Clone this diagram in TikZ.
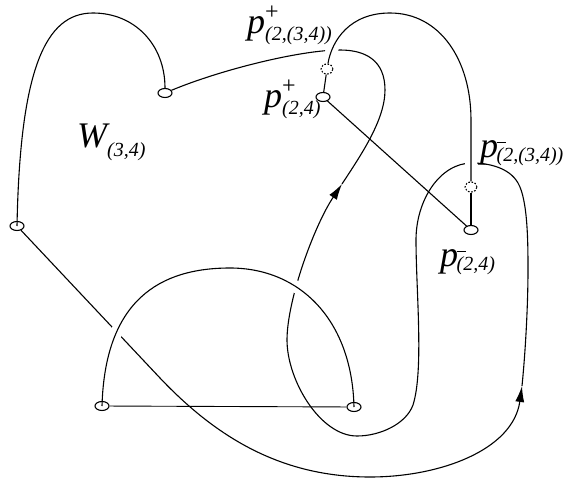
\documentclass[tikz,border=0pt]{standalone}
\usepackage{fontspec}
\setmainfont{Liberation Serif}
\usetikzlibrary{arrows.meta,shapes.geometric}

\pgfdeclarelayer{front}
\pgfsetlayers{main,front}

\newcommand{\subtxt}[1]{{\fontsize{20}{20}\selectfont #1}}
\newcommand{\pplus}[1]{p\rlap{\raisebox{14pt}{\fontsize{24}{24}\selectfont\upshape +}}\raisebox{-7pt}{\subtxt{#1}}}
\newcommand{\pminus}[1]{p\kern-1.5pt\rlap{\raisebox{14pt}{\rule{9pt}{1.4pt}}}\raisebox{-4pt}{\subtxt{#1}}}

\begin{document}
\begin{tikzpicture}[x=1pt,y=-1pt,
  hole/.style={draw, ellipse, line width=1.1pt, minimum width=14pt, minimum height=9pt, inner sep=0pt},
  hidden/.style={hole, dash pattern=on 1.6pt off 1.6pt, minimum width=12pt, minimum height=10pt},
  strand/.style={line width=1.1pt},
  over/.style={strand, preaction={draw, white, line width=12pt}},
  arrowed/.style={-{Latex[length=16pt,width=9pt]}},
  lab/.style={inner sep=0pt, font=\fontsize{36}{36}\selectfont\itshape},
]
\useasboundingbox (0,0) rectangle (566,485);

% punctures
\begin{pgfonlayer}{front}
  \node[hole] (A) at (165,93) {};
  \node[hole] (B) at (17,226) {};
  \node[hole] (C) at (102,406) {};
  \node[hole] (D) at (354,407) {};
  \node[hole] (E) at (323,97) {};
  \node[hole] (G) at (471,230) {};
  \node[hidden] (F) at (327,69) {};
  \node[hidden] (H) at (471,187) {};
\end{pgfonlayer}
\coordinate (up1) at (522,386);
\coordinate (up2) at (342,184);

% the long curve from B to A
\draw[strand, arrowed] (B) -- (160,378) .. controls (215,436) and (280,477) .. (370,477)
  .. controls (440,477) and (513,450) .. (up1);
\draw[strand, arrowed] (up1) .. controls (526,346) and (528,300) .. (528,270)
  .. controls (528,245) and (528,200) .. (518,183)
  .. controls (509,167) and (487,163) .. (472,163)
  .. controls (440,163) and (416,200) .. (416,240)
  .. controls (416,290) and (424,370) .. (413,405)
  .. controls (406,424) and (380,436) .. (357,436)
  .. controls (320,436) and (287,380) .. (287,340)
  .. controls (287,300) and (314,226) .. (up2);
\draw[strand] (up2) .. controls (361,155) and (385,120) .. (385,90)
  .. controls (385,60) and (365,50) .. (340,50)
  .. controls (300,50) and (220,70) .. (A);

% arcs passing over
\draw[over] (C.center) .. controls (105,300) and (160,268) .. (230,268)
  .. controls (300,268) and (352,320) .. (D.center);
\draw[over] (F) .. controls (332,40) and (350,13) .. (390,13)
  .. controls (440,13) and (471,60) .. (471,120) -- (H);

% the rest
\draw[strand] (B.center) .. controls (20,70) and (45,13) .. (93,13)
  .. controls (135,13) and (165,45) .. (A.north);
\draw[line width=0.9pt] (C) -- (D);
\draw[strand] (E) -- (F);
\draw[strand] (H) -- (G);
\draw[strand] (E) -- (G);

% labels
\node[lab, anchor=base west] (wlab) at (77,147) {W\raisebox{-9pt}{\subtxt{(3,4)}}};
\node[lab, anchor=base west] (pp1) at (247,33) {\pplus{(2,(3,4))}};
\node[lab, anchor=base west] (pp2) at (264,107) {\pplus{(2,4)}};
\node[lab, anchor=base west] (pm1) at (480,157) {\pminus{(2,(3,4))}};
\node[lab, anchor=base west] (pm2) at (440,266) {\pminus{(2,4)}};
\end{tikzpicture}
\end{document}
